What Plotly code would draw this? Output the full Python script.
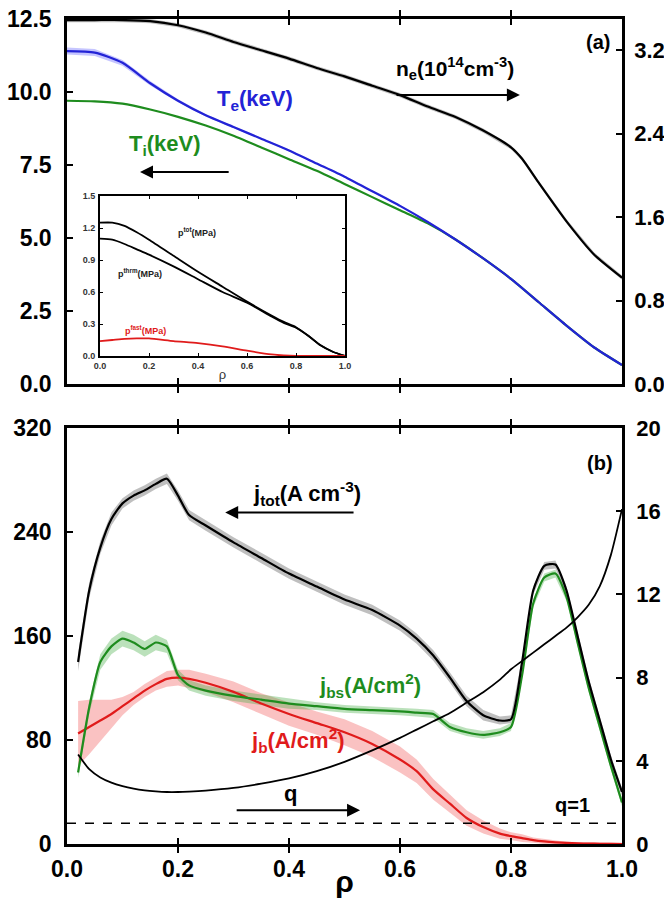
import plotly.graph_objects as go

# ---------------- data ----------------
rho_top = [0.0, 0.05, 0.1, 0.15, 0.2, 0.25, 0.3, 0.35, 0.4, 0.45, 0.5, 0.55,
           0.6, 0.65, 0.7, 0.75, 0.8, 0.85, 0.9, 0.95, 1.0]
Te = [11.4, 11.35, 11.0, 10.3, 9.7, 9.2, 8.8, 8.4, 8.0, 7.55, 7.1, 6.6,
      6.1, 5.55, 4.95, 4.3, 3.6, 2.8, 2.0, 1.25, 0.65]
Te_err = [0.12, 0.12, 0.1, 0.08, 0.05, 0.04, 0.03, 0.03, 0.03, 0.03, 0.03, 0.03,
          0.03, 0.03, 0.03, 0.03, 0.03, 0.03, 0.03, 0.03, 0.03]
Ti = [9.7, 9.68, 9.6, 9.4, 9.15, 8.85, 8.5, 8.1, 7.7, 7.3, 6.85, 6.4,
      5.95, 5.5, 4.95, 4.3, 3.6, 2.8, 2.0, 1.25, 0.65]

rho_ne = [0.0, 0.05, 0.1, 0.15, 0.2, 0.25, 0.3, 0.35, 0.4, 0.45, 0.5, 0.55,
          0.6, 0.65, 0.7, 0.75, 0.8, 0.82, 0.85, 0.9, 0.95, 1.0]
ne = [3.49, 3.49, 3.49, 3.48, 3.44, 3.37, 3.28, 3.2, 3.12, 3.03, 2.95, 2.86,
      2.77, 2.66, 2.56, 2.43, 2.27, 2.16, 1.93, 1.56, 1.24, 1.02]
ne_err = [0.02] * 22

rho_in = [0.0, 0.05, 0.1, 0.15, 0.2, 0.3, 0.4, 0.5, 0.6, 0.7, 0.75, 0.8,
          0.85, 0.9, 0.95, 1.0]
p_tot = [1.25, 1.25, 1.22, 1.16, 1.09, 0.94, 0.79, 0.65, 0.51, 0.38, 0.32, 0.27,
         0.19, 0.10, 0.04, 0.0]
p_thrm = [1.10, 1.09, 1.05, 1.0, 0.95, 0.84, 0.72, 0.60, 0.50, 0.37, 0.31, 0.265,
          0.19, 0.10, 0.04, 0.0]
p_fast = [0.14, 0.15, 0.16, 0.165, 0.165, 0.14, 0.12, 0.09, 0.05, 0.015, 0.005, 0.0,
          0.0, 0.0, 0.0, 0.0]

rho_j = [0.02, 0.04, 0.06, 0.08, 0.10, 0.12, 0.14, 0.16, 0.18, 0.20, 0.22, 0.25,
         0.30, 0.35, 0.40, 0.45, 0.50, 0.55, 0.60, 0.63, 0.66, 0.69, 0.72, 0.75,
         0.78, 0.80, 0.82, 0.84, 0.86, 0.88, 0.90, 0.92, 0.94, 0.96, 0.98, 1.00]
j_tot = [140, 195, 228, 250, 262, 268, 272, 277, 281, 268, 253, 245,
         232, 220, 208, 198, 188, 180, 168, 158, 145, 128, 110, 99,
         95, 96, 140, 195, 214, 215, 195, 160, 125, 95, 65, 40]
j_tot_err = [7, 6, 5, 5, 4, 4, 4, 4, 4, 4, 4, 4,
             4, 4, 4, 4, 4, 4, 4, 4, 4, 4, 4, 4,
             3, 3, 3, 3, 3, 3, 3, 3, 3, 3, 3, 3]
j_bs = [55, 105, 140, 152, 158, 155, 150, 155, 152, 130, 122, 118,
        114, 111, 108, 106, 104, 103, 102, 101, 100, 90, 86, 84,
        86, 90, 130, 185, 205, 208, 190, 155, 120, 90, 60, 32]
j_bs_err = [4, 5, 6, 6, 6, 6, 6, 6, 5, 4, 4, 4,
            4, 4, 4, 3, 3, 3, 3, 3, 3, 3, 3, 3,
            3, 3, 3, 3, 3, 3, 3, 3, 3, 3, 3, 3]
j_b = [85, 90, 95, 100, 106, 112, 118, 123, 127, 128, 127, 124,
       117, 108, 100, 93, 86, 77, 65, 56, 42, 31, 20, 13,
       8, 6, 4.5, 3, 2, 1.3, 0.8, 0.5, 0.3, 0.2, 0.1, 0.0]
j_b_err = [25, 21, 16, 11, 7, 5, 5, 5, 6, 6, 7, 7,
           8, 8, 9, 9, 10, 10, 10, 9, 8, 7, 6, 5,
           4, 3, 3, 2, 2, 1.5, 1, 1, 1, 1, 1, 1]
q = [4.3, 3.6, 3.2, 2.95, 2.78, 2.66, 2.58, 2.53, 2.5, 2.5, 2.52, 2.57,
     2.7, 2.9, 3.15, 3.5, 3.95, 4.5, 5.1, 5.5, 5.9, 6.3, 6.8, 7.3,
     7.9, 8.4, 8.8, 9.2, 9.6, 10.0, 10.4, 10.9, 11.5, 12.4, 13.9, 16.1]

x_ticks = [0.0, 0.2, 0.4, 0.6, 0.8, 1.0]
T_ticks = [0.0, 2.5, 5.0, 7.5, 10.0, 12.5]
ne_ticks = [0.0, 0.8, 1.6, 2.4, 3.2]
j_ticks = [0, 80, 160, 240, 320]
q_ticks = [0, 4, 8, 12, 16, 20]
p_ticks = [0.0, 0.3, 0.6, 0.9, 1.2, 1.5]

# ---------------- styling ----------------
W, H = 664, 898
FONT = "Liberation Sans"
BLUE = "#2323d6"
GREEN = "#1e8c1e"
RED = "#e01b1b"

def dom_x(a, b):
    return [a / W, b / W]

def dom_y(top, bot):
    return [1 - bot / H, 1 - top / H]

fig = go.Figure()

def band(x, y, e, color, xa, ya):
    up = [v + d for v, d in zip(y, e)]
    lo = [v - d for v, d in zip(y, e)]
    fig.add_trace(go.Scatter(x=list(x) + list(x)[::-1], y=up + lo[::-1],
                             fill="toself", fillcolor=color, mode="lines",
                             line=dict(width=0), hoverinfo="skip",
                             xaxis=xa, yaxis=ya, showlegend=False))

def line(x, y, color, xa, ya, w=2.2, dash=None):
    fig.add_trace(go.Scatter(x=x, y=y, mode="lines",
                             line=dict(color=color, width=w, dash=dash, shape="spline", smoothing=0.6),
                             xaxis=xa, yaxis=ya, showlegend=False))

# top panel
band(rho_ne, ne, ne_err, "rgba(0,0,0,0.25)", "x", "y2")
line(rho_ne, ne, "black", "x", "y2")
band(rho_top, Te, Te_err, "rgba(90,90,255,0.35)", "x", "y")
line(rho_top, Ti, GREEN, "x", "y")
line(rho_top, Te, BLUE, "x", "y")

# inset
line(rho_in, p_tot, "black", "x3", "y5", w=1.8)
line(rho_in, p_thrm, "black", "x3", "y5", w=1.8)
line(rho_in, p_fast, RED, "x3", "y5", w=1.8)

# bottom panel
band(rho_j, j_b, j_b_err, "rgba(240,80,80,0.35)", "x2", "y3")
band(rho_j, j_bs, j_bs_err, "rgba(60,170,60,0.35)", "x2", "y3")
band(rho_j, j_tot, j_tot_err, "rgba(0,0,0,0.25)", "x2", "y3")
line(rho_j, j_b, RED, "x2", "y3")
line(rho_j, j_bs, GREEN, "x2", "y3")
line(rho_j, j_tot, "black", "x2", "y3")
line(rho_j, q, "black", "x2", "y4", w=1.8)
fig.add_trace(go.Scatter(x=[0, 1], y=[1, 1], mode="lines",
                         line=dict(color="black", width=1.6, dash="dash"),
                         xaxis="x2", yaxis="y4", showlegend=False))

tickfont = dict(family=FONT, size=23, color="black", weight="bold")
common = dict(showgrid=False, zeroline=False, showline=True, linecolor="black",
              linewidth=2.5, ticks="inside", ticklen=6, tickwidth=2,
              tickcolor="black", tickfont=tickfont, automargin=False)
rfont = dict(family=FONT, size=22, color="black", weight="bold")
rcommon = dict(common, tickfont=rfont)

xd = dom_x(67, 622)
fig.update_layout(
    template="none",
    width=W, height=H, margin=dict(l=0, r=0, t=0, b=0, autoexpand=False),
    paper_bgcolor="white", plot_bgcolor="white", showlegend=False,
    xaxis=dict(domain=xd, range=[0, 1], anchor="y", tickvals=x_ticks,
               showticklabels=False, mirror="allticks", **common),
    yaxis=dict(domain=dom_y(19, 384), range=[0, 12.5], anchor="x",
               tickvals=T_ticks, tickformat=".1f", ticklabelstandoff=8, **common),
    yaxis2=dict(overlaying="y", side="right", range=[0, 3.5], anchor="x",
                tickvals=ne_ticks, tickformat=".1f", ticklabelstandoff=5, **rcommon),
    xaxis2=dict(domain=xd, range=[0, 1], anchor="y3", tickvals=x_ticks,
                tickformat=".1f", mirror="allticks", ticklabelstandoff=3,
                title=dict(text="<b>ρ</b>", font=dict(family=FONT, size=30, color="black"),
                           standoff=0),
                **common),
    yaxis3=dict(domain=dom_y(428, 844), range=[0, 320], anchor="x2",
                tickvals=j_ticks, ticklabelstandoff=8, **common),
    yaxis4=dict(overlaying="y3", side="right", range=[0, 20], anchor="x2",
                tickvals=q_ticks, ticklabelstandoff=7, **rcommon),
)

inset_font = dict(family=FONT, size=9, color="#333333", weight="bold")
inset_common = dict(showgrid=False, zeroline=False, showline=True, linecolor="black",
                    linewidth=1.8, ticks="inside", ticklen=3, tickwidth=1.2,
                    tickcolor="black", tickfont=inset_font, mirror="allticks",
                    automargin=False)
fig.update_layout(
    xaxis3=dict(domain=dom_x(100, 345), range=[0, 1], anchor="y5", tickvals=x_ticks,
                tickformat=".1f", ticklabelstandoff=0,
                title=dict(text="ρ", font=dict(family=FONT, size=13, color="#333333"),
                           standoff=0),
                **inset_common),
    yaxis5=dict(domain=dom_y(196, 356), range=[0, 1.5], anchor="x3", tickvals=p_ticks,
                tickformat=".1f", ticklabelstandoff=1, **inset_common),
)

def label(text, x, y, xref, yref, size=20, color="black"):
    fig.add_annotation(text="<b>" + text + "</b>", x=x, y=y, xref=xref, yref=yref,
                       showarrow=False, font=dict(family=FONT, size=size, color=color))

def arrow(x0, x1, y, xref, yref):
    fig.add_annotation(x=x1, y=y, ax=x0, ay=y, xref=xref, yref=yref, axref=xref, ayref=yref,
                       text="", showarrow=True, arrowhead=2, arrowsize=1.3,
                       arrowwidth=2, arrowcolor="black")

# top panel annotations
label("(a)", 0.957, 11.7, "x", "y", size=20)
label("n<sub>e</sub>(10<sup>14</sup>cm<sup>-3</sup>)", 0.699, 10.8, "x", "y", size=21)
arrow(0.591, 0.816, 9.9, "x", "y")
label("T<sub>e</sub>(keV)", 0.339, 9.73, "x", "y", size=22, color=BLUE)
label("T<sub>i</sub>(keV)", 0.177, 8.18, "x", "y", size=22, color=GREEN)
arrow(0.294, 0.1315, 7.26, "x", "y")

# inset annotations
label("p<sup>tot</sup>(MPa)", 0.396, 1.16, "x3", "y5", size=9, color="#222222")
label("p<sup>thrm</sup>(MPa)", 0.163, 0.78, "x3", "y5", size=9, color="#222222")
label("p<sup>fast</sup>(MPa)", 0.184, 0.24, "x3", "y5", size=9, color=RED)

# bottom panel annotations
label("(b)", 0.96, 293, "x2", "y3", size=20)
label("j<sub>tot</sub>(A cm<sup>-3</sup>)", 0.432, 270, "x2", "y3", size=22)
arrow(0.519, 0.285, 255, "x2", "y3")
label("j<sub>bs</sub>(A/cm<sup>2</sup>)", 0.546, 122, "x2", "y3", size=22, color=GREEN)
label("j<sub>b</sub>(A/cm<sup>2</sup>)", 0.416, 80, "x2", "y3", size=22, color=RED)
label("q", 0.402, 39, "x2", "y3", size=22)
arrow(0.303, 0.528, 26, "x2", "y3")
label("q=1", 0.91, 30, "x2", "y3", size=20)

fig.write_html("out.html", config={"displayModeBar": False},
               post_script="document.body.style.margin='0px';")
